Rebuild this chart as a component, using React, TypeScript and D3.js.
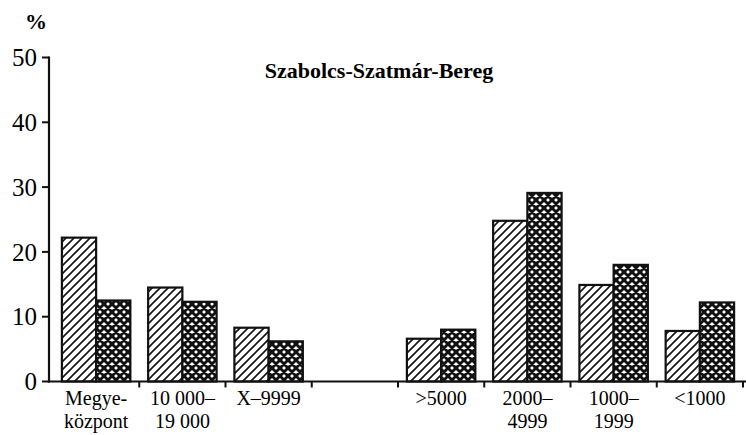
import React from "react";
import * as d3 from "d3";

const categories: string[][] = [
  ["Megye-", "központ"],
  ["10 000–", "19 000"],
  ["X–9999"],
  [],
  [">5000"],
  ["2000–", "4999"],
  ["1000–", "1999"],
  ["<1000"],
];
const hatchedValues: (number | null)[] = [22.2, 14.5, 8.3, null, 6.6, 24.8, 14.9, 7.8];
const crossValues: (number | null)[] = [12.5, 12.3, 6.2, null, 8.0, 29.1, 18.0, 12.2];
const yTicks = [0, 10, 20, 30, 40, 50];
const title = "Szabolcs-Szatmár-Bereg";
const unitLabel = "%";

const W = 746;
const H = 435;
const TXT = { fontFamily: "Times New Roman" };

export default function App() {
  const idx = categories.map((_, i) => String(i));
  const x = d3.scaleBand<string>().domain(idx).range([53, 743]).paddingInner(0).paddingOuter(0);
  const inner = d3.scaleBand<string>().domain(["h", "c"]).range([0, x.bandwidth()]).paddingOuter(0.26).paddingInner(0);
  const y = d3.scaleLinear().domain([0, 50]).range([381.5, 57.5]);
  const axisX = 49;
  const baseY = y(0);

  const bars: { key: string; s: string; v: number; i: number }[] = [];
  categories.forEach((_, i) => {
    const h = hatchedValues[i];
    const c = crossValues[i];
    if (h != null) bars.push({ key: `h${i}`, s: "h", v: h, i });
    if (c != null) bars.push({ key: `c${i}`, s: "c", v: c, i });
  });

  const boundaries = idx.map((k) => (x(k) as number) + x.bandwidth());

  return (
    <svg width={W} height={H} style={{ position: "absolute", left: 0, top: 0, background: "#fff", fontFamily: "Times New Roman" }}>
      <g style={TXT}>
        <text x={36} y={29} fontSize={22} fontWeight="bold" textAnchor="middle" style={TXT}>{unitLabel}</text>
        <text x={379} y={78} fontSize={22} fontWeight="bold" textAnchor="middle" style={TXT}>{title}</text>
        {yTicks.map((t) => (
          <text key={t} x={37} y={y(t)} dy="0.35em" fontSize={25} textAnchor="end" style={TXT}>{t}</text>
        ))}
        {categories.map((lines, i) => (
          <text key={i} x={(x(String(i)) as number) + x.bandwidth() / 2} y={405} fontSize={20} textAnchor="middle" style={TXT}>
            {lines.map((l, j) => (
              <tspan key={j} x={(x(String(i)) as number) + x.bandwidth() / 2} dy={j === 0 ? 0 : 23}>{l}</tspan>
            ))}
          </text>
        ))}
      </g>

      <defs>
        <pattern id="hatchP" patternUnits="userSpaceOnUse" width="8" height="8">
          <rect width="8" height="8" fill="#fff" />
          <path d="M-2,2 l4,-4 M0,8 l8,-8 M6,10 l4,-4" stroke="#111" strokeWidth="1.6" />
        </pattern>
        <pattern id="crossP" patternUnits="userSpaceOnUse" width="8" height="8">
          <rect width="8" height="8" fill="#fff" />
          <path d="M-2,2 l4,-4 M0,8 l8,-8 M6,10 l4,-4 M-2,6 l4,4 M0,0 l8,8 M6,-2 l4,4" stroke="#111" strokeWidth="2.9" />
        </pattern>
      </defs>

      {/* y axis */}
      <line x1={axisX} x2={axisX} y1={y(50) - 1} y2={baseY + 1} stroke="#111" strokeWidth={2.2} />
      {yTicks.map((t) => (
        <line key={t} x1={42} x2={axisX} y1={y(t)} y2={y(t)} stroke="#111" strokeWidth={2} />
      ))}

      {/* bars */}
      {bars.map((b) => {
        const x0 = (x(String(b.i)) as number) + (inner(b.s) as number);
        return (
          <rect
            key={b.key}
            x={x0}
            y={y(b.v)}
            width={inner.bandwidth()}
            height={baseY - y(b.v)}
            fill={b.s === "h" ? "url(#hatchP)" : "url(#crossP)"}
            stroke="#111"
            strokeWidth={2.2}
          />
        );
      })}

      {/* x axis */}
      <line x1={axisX - 1} x2={W} y1={baseY} y2={baseY} stroke="#111" strokeWidth={2.2} />
      {boundaries.map((bx, i) => (
        <line key={i} x1={bx} x2={bx} y1={baseY} y2={baseY + 6} stroke="#111" strokeWidth={2} />
      ))}
    </svg>
  );
}
